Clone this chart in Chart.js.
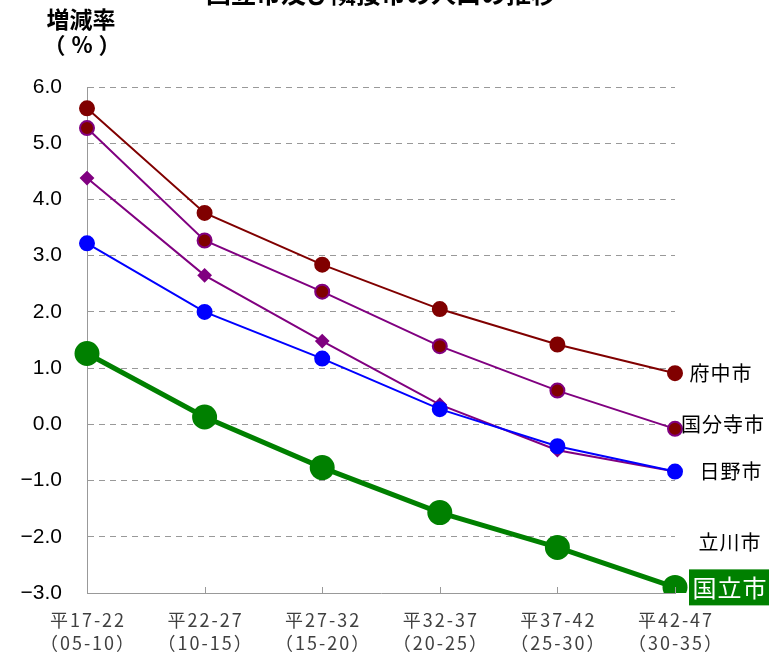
<!DOCTYPE html>
<html lang="ja">
<head>
    <meta charset="UTF-8">
    <title>国立市及び隣接市の人口の推移</title>
    <script src="https://cdn.jsdelivr.net/npm/chart.js"></script>
    <style>
        body {
            margin: 0;
            background-color: white;
        }
        #wrap {
            width: 769px;
            height: 654px;
        }
    </style>
</head>
<body>
    <div id="wrap">
        <canvas id="popChart" width="769" height="654"></canvas>
    </div>

    <script>
        // periods (Heisei years / western years)
        const categories = [
            ['平17-22', '（05-10）'],
            ['平22-27', '（10-15）'],
            ['平27-32', '（15-20）'],
            ['平32-37', '（20-25）'],
            ['平37-42', '（25-30）'],
            ['平42-47', '（30-35）']
        ];

        // growth rate (%) per period
        const fuchu      = [5.62, 3.76, 2.84, 2.05, 1.42, 0.91];
        const kokubunji  = [5.27, 3.27, 2.36, 1.39, 0.60, -0.08];
        const tachikawa  = [4.38, 2.65, 1.48, 0.35, -0.46, -0.84];
        const hino       = [3.22, 2.00, 1.17, 0.27, -0.39, -0.84];
        const kunitachi  = [1.26, 0.13, -0.77, -1.57, -2.19, -2.90];

        const yMin = -3, yMax = 6, yStep = 1;

        const chartTitle = '国立市及び隣接市の人口の推移';

        // labels at the right end of the chart
        const endLabels = [
            { text: '府中市',   value: 0.91,  dx: 46 },
            { text: '国分寺市', value: 0.0,   dx: 48 },
            { text: '日野市',   value: -0.84, dx: 56 },
            { text: '立川市',   value: -2.1,  dx: 55 },
        ];

        const textPlugin = {
            id: 'textPlugin',
            afterDraw(chart) {
                const ctx = chart.ctx;
                const area = chart.chartArea;
                const y = chart.scales.y;
                const x = chart.scales.x;
                ctx.save();

                // tick marks pointing up from the x axis
                ctx.strokeStyle = '#999';
                ctx.lineWidth = 1;
                for (let i = 1; i < categories.length; i++) {
                    const px = Math.round(x.getPixelForTick(i)) + 0.5;
                    ctx.beginPath();
                    ctx.moveTo(px, area.bottom);
                    ctx.lineTo(px, area.bottom - 6);
                    ctx.stroke();
                }

                ctx.textAlign = 'center';
                ctx.textBaseline = 'middle';

                // category labels (two lines, wide spacing like a gothic font)
                ctx.fillStyle = '#404040';
                ctx.font = '18px "Noto Sans CJK JP"';
                ctx.letterSpacing = '2px';
                categories.forEach((lines, i) => {
                    const px = x.getPixelForTick(i) + 1;
                    ctx.fillText(lines[0], px, area.bottom + 27);
                    ctx.fillText(lines[1], px, area.bottom + 50);
                });

                ctx.fillStyle = '#000';
                ctx.letterSpacing = '0px';

                // title (cut off at the top)
                ctx.font = 'bold 25px "Noto Sans CJK JP"';
                ctx.fillText(chartTitle, 381, -7);

                // y axis title
                ctx.font = 'bold 23px "Noto Sans CJK JP"';
                ctx.fillText('増減率', 81, 19);
                ctx.font = 'bold 22px "Noto Sans CJK JP"';
                ctx.letterSpacing = '6px';
                ctx.fillText('（%）', 85, 45);

                // series labels
                ctx.font = '20px "Noto Sans CJK JP"';
                ctx.letterSpacing = '1px';
                endLabels.forEach(l => {
                    ctx.fillText(l.text, area.right + l.dx, y.getPixelForValue(l.value));
                });

                // highlighted label
                const ky = y.getPixelForValue(kunitachi[kunitachi.length - 1]);
                ctx.fillStyle = '#008000';
                ctx.fillRect(689, ky - 18, 80, 36);
                ctx.fillStyle = '#fff';
                ctx.font = '24px "Noto Sans CJK JP"';
                ctx.fillText('国立市', 730, ky);

                ctx.restore();
            }
        };

        const ctx = document.getElementById('popChart').getContext('2d');
        new Chart(ctx, {
            type: 'line',
            data: {
                labels: categories,
                datasets: [
                    {
                        label: '国立市',
                        data: kunitachi,
                        borderColor: '#008000',
                        backgroundColor: '#008000',
                        borderWidth: 5,
                        pointRadius: 10,
                        pointHoverRadius: 10,
                        order: 1
                    },
                    {
                        label: '日野市',
                        data: hino,
                        borderColor: '#0000ff',
                        backgroundColor: '#0000ff',
                        borderWidth: 2,
                        pointRadius: 7,
                        order: 2
                    },
                    {
                        label: '立川市',
                        data: tachikawa,
                        borderColor: '#800080',
                        backgroundColor: '#800080',
                        borderWidth: 2,
                        pointStyle: 'rectRot',
                        pointRadius: 6,
                        order: 3
                    },
                    {
                        label: '国分寺市',
                        data: kokubunji,
                        borderColor: '#800080',
                        backgroundColor: '#800000',
                        pointBorderColor: '#800080',
                        pointBorderWidth: 2,
                        borderWidth: 2,
                        pointRadius: 7,
                        order: 4
                    },
                    {
                        label: '府中市',
                        data: fuchu,
                        borderColor: '#800000',
                        backgroundColor: '#800000',
                        borderWidth: 2,
                        pointRadius: 7,
                        order: 5
                    }
                ]
            },
            options: {
                responsive: false,
                animation: false,
                layout: {
                    padding: { top: 87, right: 94, left: 0, bottom: 0 }
                },
                plugins: {
                    legend: { display: false },
                    title: { display: false },
                    tooltip: { enabled: false }
                },
                scales: {
                    x: {
                        offset: false,
                        afterFit(scale) { scale.height = 61; },
                        grid: { display: false },
                        border: { display: true, color: '#999', width: 1 },
                        // labels are drawn by textPlugin
                        ticks: { display: false, autoSkip: false }
                    },
                    y: {
                        min: yMin,
                        max: yMax,
                        afterFit(scale) { scale.width = 87; },
                        ticks: {
                            stepSize: yStep,
                            color: '#000',
                            padding: 25,
                            font: { family: '"Liberation Sans", Arial', size: 21 },
                            callback: v => v.toFixed(1).replace('-', '−')
                        },
                        grid: {
                            color: '#999',
                            lineWidth: 1,
                            drawTicks: false
                        },
                        border: { display: true, color: '#999', width: 1, dash: [6, 5] }
                    }
                }
            },
            plugins: [textPlugin]
        });
    </script>
</body>
</html>
